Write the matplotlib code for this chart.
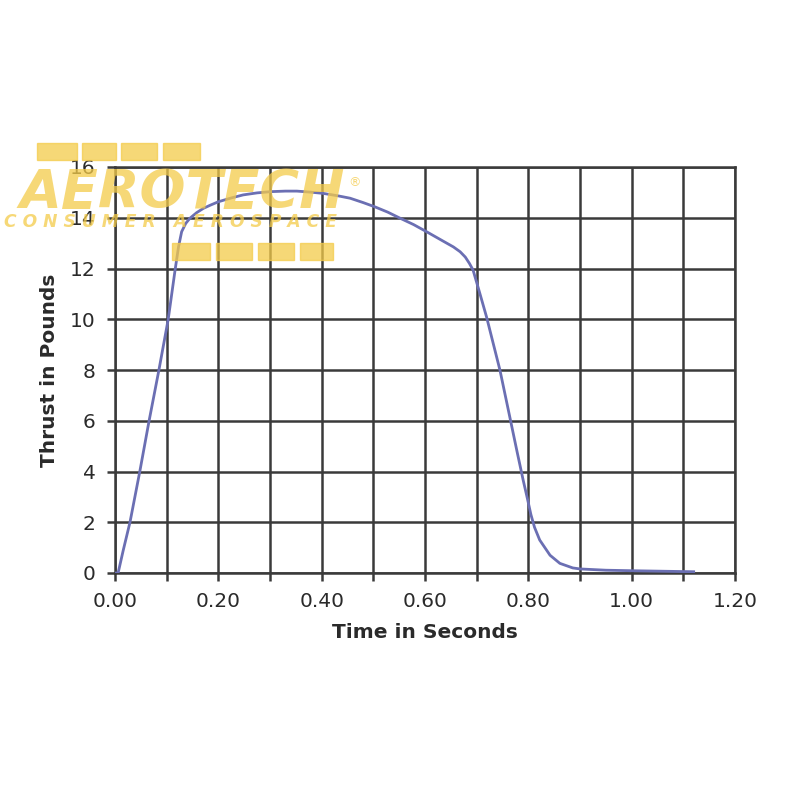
import matplotlib.pyplot as plt
from matplotlib.patches import Rectangle

# thrust curve (seconds, pounds)
time_s = [0.0, 0.006, 0.016, 0.029, 0.048, 0.066, 0.085, 0.103, 0.116, 0.123,
          0.129, 0.137, 0.145, 0.158, 0.171, 0.185, 0.2, 0.225, 0.248, 0.275,
          0.303, 0.33, 0.352, 0.378, 0.403, 0.43, 0.455, 0.48, 0.503, 0.528,
          0.552, 0.578, 0.603, 0.635, 0.655, 0.668, 0.678, 0.686, 0.693, 0.705,
          0.719, 0.732, 0.745, 0.764, 0.778, 0.79, 0.798, 0.805, 0.812, 0.822,
          0.842, 0.861, 0.886, 0.9, 0.95, 1.0, 1.06, 1.12]
thrust_lb = [0.0, 0.0, 0.9, 2.0, 4.0, 6.0, 8.0, 10.0, 11.9, 12.86,
             13.45, 13.78, 13.98, 14.2, 14.37, 14.5, 14.63, 14.78, 14.9, 14.98,
             15.03, 15.05, 15.05, 15.01, 14.96, 14.87, 14.77, 14.6, 14.43, 14.22,
             13.98, 13.73, 13.45, 13.08, 12.85, 12.66, 12.45, 12.2, 11.94, 11.1,
             10.1, 9.05, 8.0, 6.16, 4.8, 3.66, 2.95, 2.3, 1.8, 1.3,
             0.7, 0.38, 0.2, 0.16, 0.11, 0.09, 0.07, 0.05]

x_major = [0.0, 0.2, 0.4, 0.6, 0.8, 1.0, 1.2]
x_labels = ["0.00", "0.20", "0.40", "0.60", "0.80", "1.00", "1.20"]
x_minor = [0.1, 0.3, 0.5, 0.7, 0.9, 1.1]
y_ticks = [0, 2, 4, 6, 8, 10, 12, 14, 16]

grid_col = "#3a3a3a"
text_col = "#2a2a2a"
fig = plt.figure(figsize=(8, 8), dpi=100)
ax = fig.add_axes([0.14375, 0.28375, 0.775, 0.5075])

ax.plot(time_s, thrust_lb, color="#6b6fb3", lw=2, zorder=3)

ax.set_xlim(0, 1.2)
ax.set_ylim(0, 16)
ax.set_xticks(x_major)
ax.set_xticklabels(x_labels)
ax.set_xticks(x_minor, minor=True)
ax.set_yticks(y_ticks)
ax.grid(True, which="both", color=grid_col, lw=1.8)
ax.tick_params(which="both", direction="out", length=6, width=1.8, color=grid_col,
               labelsize=14.5, labelcolor=text_col, pad=8)
for s in ax.spines.values():
    s.set_color(grid_col)
    s.set_linewidth(1.8)

ax.set_xlabel("Time in Seconds", fontsize=14.5, fontweight="bold", color=text_col, labelpad=8)
ax.set_ylabel("Thrust in Pounds", fontsize=14.5, fontweight="bold", color=text_col, labelpad=8)

# AeroTech logo overlay (semi-transparent, chart shows through)
logo = "#f4cb4a"
a = 0.75
for x0, x1 in [(37, 77), (82, 116), (121, 157), (163, 200)]:
    fig.patches.append(Rectangle((x0 / 800, 1 - 160 / 800), (x1 - x0) / 800, 17 / 800,
                                 transform=fig.transFigure, color=logo, alpha=a, zorder=10))
for x0, x1 in [(172, 210), (216, 252), (258, 294), (300, 333)]:
    fig.patches.append(Rectangle((x0 / 800, 1 - 260 / 800), (x1 - x0) / 800, 17 / 800,
                                 transform=fig.transFigure, color=logo, alpha=a, zorder=10))
fig.text(182 / 800, 1 - 193 / 800, "AEROTECH", fontsize=39, fontweight="heavy",
         style="italic", color=logo, alpha=a, ha="center", va="center", zorder=10)
fig.text(354 / 800, 1 - 183 / 800, "®", fontsize=9, color=logo, alpha=a,
         ha="center", va="center", zorder=10)
fig.text(171 / 800, 1 - 222 / 800, "C O N S U M E R   A E R O S P A C E", fontsize=12.3,
         style="italic", fontweight="semibold", color=logo, alpha=a,
         ha="center", va="center", zorder=10)

fig.savefig("out.png", dpi=100)
